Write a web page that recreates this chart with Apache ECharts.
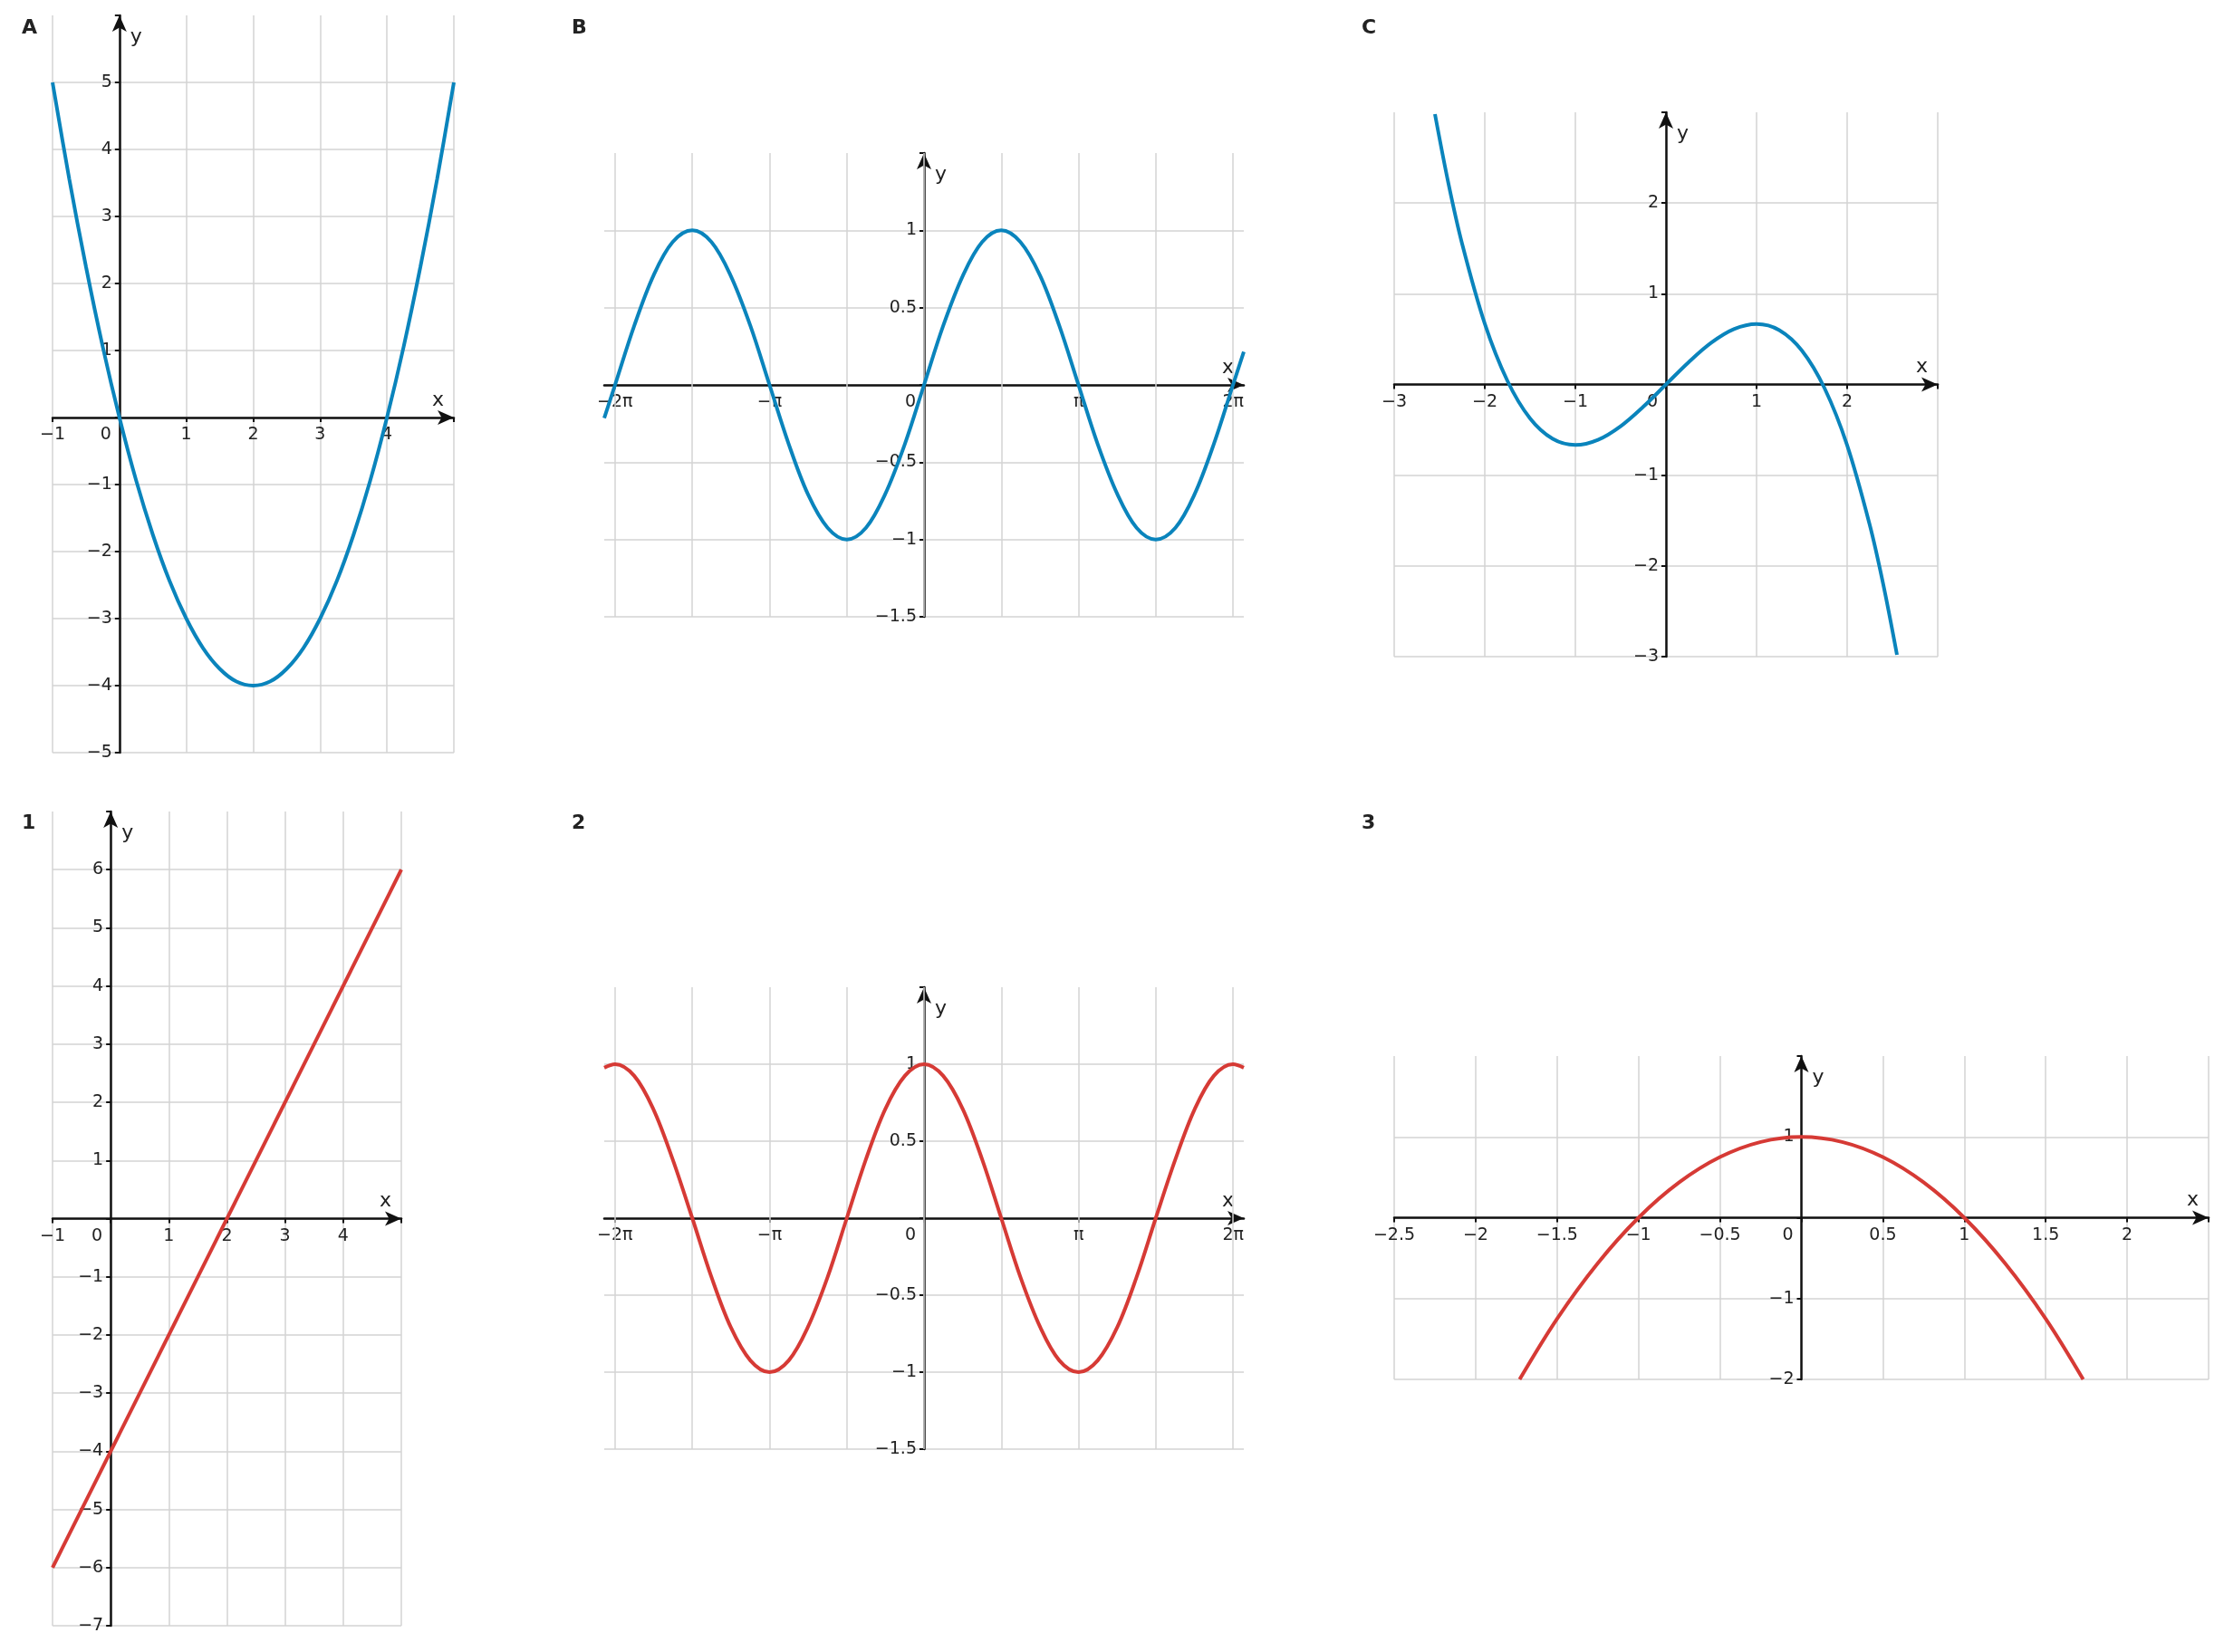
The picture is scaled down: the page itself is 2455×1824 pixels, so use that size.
<!DOCTYPE html>
<html><head><meta charset="utf-8">
<script src="https://cdn.jsdelivr.net/npm/echarts@6/dist/echarts.min.js"></script>
<style>html,body{margin:0;padding:0;background:#fff}#c{width:2455px;height:1824px}</style>
</head><body><div id="c"></div>
<script>
// ---- data ----
const panelLabels = ['A','B','C','1','2','3'];
const xA = [-1,-0.75,-0.5,-0.25,0,0.25,0.5,0.75,1,1.25,1.5,1.75,2,2.25,2.5,2.75,3,3.25,3.5,3.75,4,4.25,4.5,4.75,5];
const yA = [5,3.56,2.25,1.06,0,-0.94,-1.75,-2.44,-3,-3.44,-3.75,-3.94,-4,-3.94,-3.75,-3.44,-3,-2.44,-1.75,-0.94,0,1.06,2.25,3.56,5];
const xTrig = [-6.5,-6.28,-5.89,-5.50,-5.11,-4.71,-4.32,-3.93,-3.53,-3.14,-2.75,-2.36,-1.96,-1.57,-1.18,-0.79,-0.39,0,0.39,0.79,1.18,1.57,1.96,2.36,2.75,3.14,3.53,3.93,4.32,4.71,5.11,5.50,5.89,6.28,6.5];
const ySin = [-0.215,0,0.383,0.707,0.924,1,0.924,0.707,0.383,0,-0.383,-0.707,-0.924,-1,-0.924,-0.707,-0.383,0,0.383,0.707,0.924,1,0.924,0.707,0.383,0,-0.383,-0.707,-0.924,-1,-0.924,-0.707,-0.383,0,0.215];
const yCos = [0.977,1,0.924,0.707,0.383,0,-0.383,-0.707,-0.924,-1,-0.924,-0.707,-0.383,0,0.383,0.707,0.924,1,0.924,0.707,0.383,0,-0.383,-0.707,-0.924,-1,-0.924,-0.707,-0.383,0,0.383,0.707,0.924,1,0.977];
const xC = [-2.55,-2.4,-2.25,-2,-1.75,-1.5,-1.25,-1,-0.75,-0.5,-0.25,0,0.25,0.5,0.75,1,1.25,1.5,1.75,2,2.25,2.4,2.55];
const yC = [2.98,2.21,1.55,0.67,0.04,-0.375,-0.60,-0.667,-0.61,-0.46,-0.245,0,0.245,0.46,0.61,0.667,0.60,0.375,-0.04,-0.67,-1.55,-2.21,-2.98];
const x1 = [-1,5];
const y1 = [-6,6];
const x3 = [-1.73,-1.5,-1.25,-1,-0.75,-0.5,-0.25,0,0.25,0.5,0.75,1,1.25,1.5,1.73];
const y3 = [-2,-1.25,-0.5625,0,0.4375,0.75,0.9375,1,0.9375,0.75,0.4375,0,-0.5625,-1.25,-2];
const piTicks = [-6.2832,-3.1416,0,3.1416,6.2832];
const piLabels = ['−2π','−π','0','π','2π'];
const piGrid = [-6.2832,-4.7124,-3.1416,-1.5708,0,1.5708,3.1416,4.7124,6.2832];
const BLUE = '#0a84bc', RED = '#d63a35';

// ---- layout ----
const panels = [
  {g:[58,17,443,814], xr:[-1,5,1], yr:[-5,6,1], xs:xA, ys:yA, c:BLUE, lab:[27,27]},
  {g:[667,169,706,512], xr:[-6.5,6.5,null], yr:[-1.5,1.5,0.5], xs:xTrig, ys:ySin, c:BLUE, pi:true, lab:[634,27]},
  {g:[1539,124,600,601], xr:[-3,3,1], yr:[-3,3,1], xs:xC, ys:yC, c:BLUE, lab:[1506,27]},
  {g:[58,896,385,899], xr:[-1,5,1], yr:[-7,7,1], xs:x1, ys:y1, c:RED, lab:[27,905]},
  {g:[667,1090,706,510], xr:[-6.5,6.5,null], yr:[-1.5,1.5,0.5], xs:xTrig, ys:yCos, c:RED, pi:true, lab:[634,905]},
  {g:[1539,1166,899,357], xr:[-2.5,2.5,0.5], yr:[-2,2,1], xs:x3, ys:y3, c:RED, lab:[1506,905]}
];
const FONT = 'DejaVu Sans', TXT = '#222', GRID = '#d3d3d3';
const fmt = v => String(+v.toFixed(2)).replace('-', '−');
const axisLine = {onZero:false, lineStyle:{color:'#111', width:2.5}, symbol:['none','arrow'], symbolSize:[12,18]};
const grids=[], xAxes=[], yAxes=[], series=[], titles=[];
panels.forEach((p,i)=>{
  grids.push({left:p.g[0], top:p.g[1], width:p.g[2], height:p.g[3]});
  const xmax=p.xr[1], ymax=p.yr[1];
  // place axes at the zero lines of the other axis' scale
  const xOff = -(0 - p.yr[0]) / (p.yr[1] - p.yr[0]) * p.g[3];
  const yOff = -(0 - p.xr[0]) / (p.xr[1] - p.xr[0]) * p.g[2];
  const xa = {type:'value', gridIndex:i, min:p.xr[0], max:p.xr[1], position:'bottom', offset:xOff,
    axisLine, name:'x', nameLocation:'end', nameGap:-24,
    nameTextStyle:{fontFamily:FONT, fontSize:22, color:TXT, align:'left', verticalAlign:'bottom', padding:[0,0,8,0]},
    axisTick:{show:true, lineStyle:{color:'#111', width:2}, length:5},
    axisLabel:{fontFamily:FONT, fontSize:19, color:TXT, margin:10, showMaxLabel:true, showMinLabel:true,
      formatter: v => { if (Math.abs(v)<1e-9) return '{z|0}'; if (Math.abs(v-xmax)<1e-9) return ''; return fmt(v); },
      rich:{z:{fontFamily:FONT, fontSize:19, color:TXT, padding:[0,30,0,0]}}},
    splitLine:{show:!p.pi, showMinLine:true, showMaxLine:true, lineStyle:{color:GRID, width:1.5}}};
  if (p.xr[2]) xa.interval = p.xr[2];
  if (p.pi) {
    xa.axisTick.customValues = piTicks;
    xa.axisLabel.customValues = piTicks;
    xa.axisLabel.formatter = v => { const k = piTicks.findIndex(t=>Math.abs(t-v)<1e-3); return k===2 ? '{z|0}' : piLabels[k]; };
  }
  xAxes.push(xa);
  yAxes.push({type:'value', gridIndex:i, min:p.yr[0], max:p.yr[1], interval:p.yr[2], position:'left', offset:yOff,
    axisLine, name:'y', nameLocation:'end', nameGap:-24,
    nameTextStyle:{fontFamily:FONT, fontSize:22, color:TXT, align:'left', verticalAlign:'middle', padding:[0,0,0,12]},
    axisTick:{show:true, lineStyle:{color:'#111', width:2}, length:5},
    axisLabel:{fontFamily:FONT, fontSize:19, color:TXT, margin:8,
      formatter: v => (Math.abs(v)<1e-9 || Math.abs(v-ymax)<1e-9) ? '' : fmt(v)},
    splitLine:{show:true, showMaxLine:false, lineStyle:{color:GRID, width:1.5}}});
  const s = {type:'line', xAxisIndex:i, yAxisIndex:i, showSymbol:false, smooth:p.xs.length>2 ? 0.35 : false,
    clip:true, z:3, lineStyle:{color:p.c, width:4}, itemStyle:{color:p.c},
    data: p.xs.map((x,j)=>[x,p.ys[j]])};
  if (p.pi) s.markLine = {silent:true, symbol:'none', label:{show:false}, z:1,
    lineStyle:{color:GRID, width:1.5, type:'solid'}, data: piGrid.map(v=>({xAxis:v}))};
  series.push(s);
  titles.push({text:panelLabels[i], left:p.lab[0]-8, top:p.lab[1]-12,
    textStyle:{fontFamily:FONT, fontSize:22, fontWeight:'bold', color:TXT}});
});
const chart = echarts.init(document.getElementById('c'));
chart.setOption({backgroundColor:'#fff', animation:false, title:titles, grid:grids, xAxis:xAxes, yAxis:yAxes, series});
</script></body></html>
